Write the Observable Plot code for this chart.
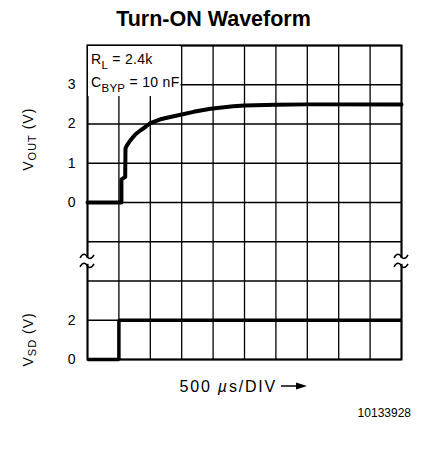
<!DOCTYPE html>
<html>
<head>
<meta charset="utf-8">
<script src="https://cdn.jsdelivr.net/npm/d3@7"></script>
<script src="https://cdn.jsdelivr.net/npm/@observablehq/plot@0.6"></script>
<style>
  body { margin: 0; background: #fff; }
  #title { width: 423px; height: 36px; box-sizing: border-box; padding-top: 9px; padding-left: 4px;
           text-align: center; font: bold 21.5px "Liberation Sans", Arial, sans-serif; line-height: 21px; color: #000; }
  #chart svg { display: block; }
</style>
</head>
<body>
<div id="title"></div>
<div id="chart"></div>
<script>
// ---- data ----
const titleText = "Turn-ON Waveform";
const xLabelParts = ["500 ", "µ", "s/DIV"];
const figureId = "10133928";
const timeDivisions = [0, 500, 1000, 1500, 2000, 2500, 3000, 3500, 4000, 4500, 5000]; // µs, 500 µs/DIV
const gridRows = [-4, -3, -2, -1, 0, 1, 2, 3, 4];
const voutTime  = [0, 540, 540, 590, 600, 605, 630, 685, 765, 845, 925, 1000, 1160, 1320, 1500, 1690, 1960, 2320, 2500, 3000, 3500, 5000];
const voutValue = [0, 0, 0.59, 0.64, 0.65, 1.38, 1.46, 1.59, 1.74, 1.84, 1.93, 2.02, 2.12, 2.18, 2.24, 2.31, 2.39, 2.45, 2.47, 2.49, 2.50, 2.50];
const sdTime  = [0, 500, 500, 5000];
const sdValue = [0, 0, 2, 2];
const voutTicks = [0, 1, 2, 3];
const sdTicks = [0, 2];
const annotation = [["R", "L", " = 2.4k"], ["C", "BYP", " = 10 nF"]];
const yLabels = [["V", "OUT", " (V)"], ["V", "SD", " (V)"]];

// V_OUT: 1 V per division; V_SD: 2 V per division, bottom row
const voutRow = v => v;
const sdRow = v => -4 + v / 2;

document.getElementById("title").textContent = titleText;

const vout = voutTime.map((t, i) => ({t, v: voutValue[i]}));
const sd = sdTime.map((t, i) => ({t, v: sdValue[i]}));
const font = "'Liberation Sans', Arial, sans-serif";

const plot = Plot.plot({
  width: 423,
  height: 425,
  marginLeft: 87,
  marginRight: 22,
  marginTop: 9,
  marginBottom: 102,
  x: {domain: [0, 5000], axis: null},
  y: {domain: [-4, 4], axis: null},
  style: {fontFamily: font, background: "white", color: "black"},
  marks: [
    Plot.ruleX(timeDivisions, {stroke: "#000", strokeWidth: 1.3}),
    Plot.ruleY(gridRows, {stroke: "#000", strokeWidth: 1.3}),
    Plot.line(vout, {x: "t", y: d => voutRow(d.v), stroke: "#000", strokeWidth: 4, strokeLinejoin: "round"}),
    Plot.line(sd, {x: "t", y: d => sdRow(d.v), stroke: "#000", strokeWidth: 3.5, strokeLinejoin: "miter", strokeLinecap: "butt"}),
    Plot.text(voutTicks, {y: d => voutRow(d), text: d => String(d), frameAnchor: "left", textAnchor: "end", dx: -12, fontSize: 14, fill: "#000"}),
    Plot.text(sdTicks, {y: d => sdRow(d), text: d => String(d), frameAnchor: "left", textAnchor: "end", dx: -12, fontSize: 14, fill: "#000"}),
    Plot.frame({stroke: "#000", strokeWidth: 2})
  ]
});
document.getElementById("chart").appendChild(plot);

const svg = d3.select(plot);
const X = plot.scale("x"), Y = plot.scale("y");
const x0 = X.apply(0), x1 = X.apply(5000), yTop = Y.apply(4), yBot = Y.apply(-4);

// ---- annotation box ----
const ann = svg.append("g").attr("font-family", font).attr("font-size", 14).attr("letter-spacing", 0.3)
  .attr("fill", "#000").attr("text-anchor", "start");
const box = ann.append("rect").attr("fill", "white");
const texts = annotation.map((a, i) => {
  const t = ann.append("text").attr("text-anchor", "start").attr("x", x0 + 4).attr("y", yTop + 18.5 + i * 23.5);
  t.append("tspan").text(a[0]);
  t.append("tspan").attr("font-size", 11.5).attr("dy", 5).text(a[1]);
  t.append("tspan").attr("dy", -5).text(a[2]);
  return t.node().getBBox();
});
const right = d3.max(texts, b => b.x + b.width) + 1;
const bottom = d3.max(texts, b => b.y + b.height) + 2;
box.attr("x", x0 + 1).attr("y", yTop + 1).attr("width", right - x0 - 1).attr("height", bottom - yTop - 1);

// ---- axis titles (rotated, with subscripts) ----
[Y.apply(1.6), Y.apply(-3.5)].forEach((cy, i) => {
  const l = yLabels[i];
  const t = svg.append("text")
    .attr("transform", `translate(33,${cy}) rotate(-90)`)
    .attr("text-anchor", "middle").attr("font-family", font).attr("font-size", 14)
    .attr("letter-spacing", 1).attr("fill", "#000");
  t.append("tspan").text(l[0]);
  t.append("tspan").attr("font-size", 11).attr("dy", 3).text(l[1]);
  t.append("tspan").attr("dy", -3).text(l[2]);
});

// ---- axis break marks ----
const yb = Y.apply(-1.5);
[x0, x1].forEach(xe => {
  svg.append("rect").attr("x", xe - 3).attr("y", yb - 3).attr("width", 6).attr("height", 6).attr("fill", "white");
  [-4.5, 4.5].forEach(o => {
    const c = yb + o;
    svg.append("path")
      .attr("d", `M${xe - 7},${c + 1.5} C${xe - 4},${c - 4} ${xe - 1},${c - 2} ${xe},${c} S${xe + 4},${c + 4} ${xe + 7},${c - 1.5}`)
      .attr("fill", "none").attr("stroke", "#000").attr("stroke-width", 1.5);
  });
});

// ---- x label with arrow ----
const xc = (x0 + x1) / 2;
const xl = svg.append("text").attr("x", xc + 33).attr("y", yBot + 32.6)
  .attr("text-anchor", "end").attr("font-family", font).attr("font-size", 16)
  .attr("letter-spacing", 1.8).attr("fill", "#000");
xl.append("tspan").text(xLabelParts[0]);
xl.append("tspan").attr("font-style", "italic").text(xLabelParts[1]);
xl.append("tspan").text(xLabelParts[2]);
const xb = xl.node().getBBox();
const ax = xb.x + xb.width + 4, ay = yBot + 27;
svg.append("line").attr("x1", ax).attr("x2", ax + 18).attr("y1", ay).attr("y2", ay).attr("stroke", "#000").attr("stroke-width", 1.5);
svg.append("path").attr("d", `M${ax + 26},${ay} L${ax + 15},${ay - 3.5} L${ax + 15},${ay + 3.5} Z`).attr("fill", "#000");

// ---- figure id ----
svg.append("text").attr("x", x1 + 10).attr("y", yBot + 57.6).attr("text-anchor", "end")
  .attr("font-family", font).attr("font-size", 12).attr("fill", "#000").text(figureId);
</script>
</body>
</html>
